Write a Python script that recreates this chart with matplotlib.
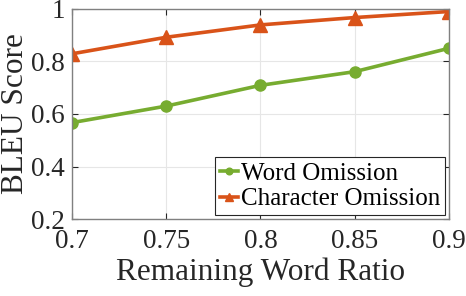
import matplotlib
matplotlib.use("Agg")
import matplotlib.pyplot as plt

plt.rcParams['font.family'] = ['Liberation Serif', 'DejaVu Serif']

ratio = [0.7, 0.75, 0.8, 0.85, 0.9]
word_omission = [0.567, 0.630, 0.709, 0.761, 0.850]
char_omission = [0.829, 0.892, 0.939, 0.967, 0.990]

green = '#77AC30'
orange = '#D95319'

fig = plt.figure(figsize=(4.66, 2.96), dpi=100)
ax = fig.add_axes([0.1545, 0.260, 0.809, 0.710])

ax.plot(ratio, word_omission, '-o', color=green, lw=2.6, ms=8, label='Word Omission')
ax.plot(ratio, char_omission, '-^', color=orange, lw=2.6, ms=9.5, label='Character Omission')

ax.set_xlim(0.7, 0.9)
ax.set_ylim(0.2, 1.0)
ax.set_xticks(ratio)
ax.set_xticklabels(['0.7', '0.75', '0.8', '0.85', '0.9'])
ax.set_yticks([0.2, 0.4, 0.6, 0.8, 1.0])
ax.set_yticklabels(['0.2', '0.4', '0.6', '0.8', '1'])
ax.grid(True, color='#e6e6e6', lw=0.8)
ax.set_axisbelow(True)
ax.tick_params(direction='in', top=True, right=True, labelsize=19.5, colors='#262626',
               length=4, width=0.8)
ax.tick_params(axis='x', pad=7)
ax.tick_params(axis='y', pad=5)
for s in ax.spines.values():
    s.set_color('#808080')
    s.set_linewidth(1.0)

ax.set_xlabel('Remaining Word Ratio', fontsize=22.5, color='#262626', labelpad=3)
ax.set_ylabel('BLEU Score', fontsize=22.5, color='#262626', labelpad=1)

leg = ax.legend(loc='lower right', fontsize=18, fancybox=False, framealpha=1,
                edgecolor='#262626', handlelength=0.75, handletextpad=0.1,
                borderpad=0.2, labelspacing=0.12, borderaxespad=0.15, markerscale=0.6)
leg.get_frame().set_linewidth(0.8)

fig.savefig('out.png', dpi=100)
